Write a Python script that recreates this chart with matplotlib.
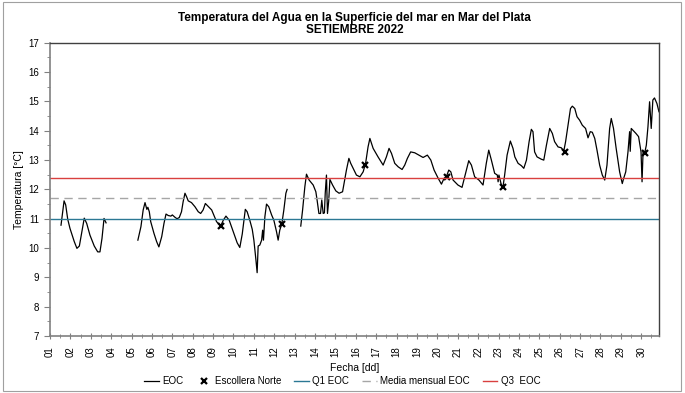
import numpy as np
import matplotlib
matplotlib.use("Agg")
import matplotlib.pyplot as plt
from matplotlib.patches import Rectangle

plt.rcParams['font.family'] = ['Liberation Sans Narrow', 'Liberation Sans', 'DejaVu Sans']

# EOC series (day of month, fractional) - NaN marks the gaps in the record
eoc_days = [1.54, 1.69, 1.77, 1.87, 1.98, 2.19, 2.32, 2.44, 2.55, 2.68, 2.80, 2.96, 3.17, 3.34, 3.45,
            3.55, 3.65, 3.75, np.nan,
            5.31, 5.46, 5.57, 5.66, 5.75, 5.80, 5.87, 5.94, 6.10, 6.23, 6.34, 6.48, 6.59, 6.69, 6.80,
            6.93, 7.00, 7.13, 7.23, 7.34, 7.45, 7.53, 7.62, 7.70, 7.78, 7.94, 8.11, 8.27, 8.39, 8.51,
            8.62, 8.93, 9.17, 9.37, 9.50, 9.63, 9.79, 9.99, 10.18, 10.31, 10.43, 10.58, 10.67, 10.80,
            10.92, 11.00, 11.10, 11.16, 11.21, 11.29, 11.38, 11.43, 11.47, 11.54, 11.62, 11.73, 11.87,
            11.98, 12.11, 12.19, 12.27, 12.37, 12.47, 12.57, 12.63, np.nan,
            13.30, 13.39, 13.50, 13.58, 13.71, 13.91, 14.04, 14.10, 14.19, 14.27, 14.33, 14.40, 14.46,
            14.50, 14.56, 14.61, 14.67, 14.73, 14.86, 15.02, 15.18, 15.35, 15.46, 15.54, 15.66, 15.75,
            15.87, 16.03, 16.20, 16.36, 16.48, 16.60, 16.69, 16.85, 17.09, 17.34, 17.50, 17.63, 17.75,
            17.91, 18.08, 18.27, 18.40, 18.53, 18.69, 18.89, 19.09, 19.30, 19.51, 19.68, 19.84, 20.04,
            20.20, 20.33, 20.45, 20.56, 20.66, 20.77, 21.01, 21.21, 21.34, 21.54, 21.67, 21.83, 22.04,
            22.24, 22.40, 22.52, 22.65, 22.81, 22.94, 22.98, 23.02, 23.14, 23.22, 23.30, 23.42, 23.58,
            23.71, 23.80, 23.96, 24.12, 24.24, 24.37, 24.50, 24.61, 24.69, 24.77, 24.89, 25.10, 25.22,
            25.35, 25.51, 25.64, 25.75, 25.92, 26.08, 26.20, 26.29, 26.41, 26.53, 26.62, 26.74, 26.85,
            26.98, 27.11, 27.27, 27.39, 27.50, 27.60, 27.72, 27.83, 27.96, 28.09, 28.21, 28.32, 28.45,
            28.53, 28.64, 28.77, 28.94, 29.07, 29.14, 29.24, 29.35, 29.43, 29.46, 29.51, 29.74, 29.87,
            29.99, 30.04, 30.09, 30.17, 30.25, 30.33, 30.41, 30.49, 30.57, 30.65, 30.77, 30.87]
eoc_temps = [10.78, 11.61, 11.47, 10.98, 10.67, 10.22, 9.99, 10.07, 10.50, 11.02, 10.84, 10.44, 10.07,
             9.87, 9.87, 10.33, 11.01, 10.86, np.nan,
             10.27, 10.73, 11.30, 11.55, 11.32, 11.39, 11.24, 10.90, 10.50, 10.22, 10.04, 10.39, 10.84,
             11.16, 11.11, 11.09, 11.13, 11.05, 11.00, 11.04, 11.24, 11.58, 11.87, 11.75, 11.61, 11.55,
             11.41, 11.24, 11.18, 11.30, 11.52, 11.30, 10.90, 10.75, 10.95, 11.09, 10.95, 10.56, 10.18,
             10.02, 10.48, 11.32, 11.24, 10.95, 10.64, 10.27, 9.60, 9.16, 10.07, 10.10, 10.27, 10.61,
             10.27, 11.07, 11.50, 11.41, 11.13, 10.95, 10.56, 10.27, 10.61, 10.82, 11.30, 11.87, 12.00,
             np.nan,
             10.75, 11.30, 12.09, 12.52, 12.32, 12.15, 11.92, 11.64, 11.18, 11.18, 11.64, 11.18, 11.20,
             11.87, 12.49, 11.18, 11.60, 12.34, 12.15, 11.95, 11.87, 11.92, 12.35, 12.66, 13.06, 12.89,
             12.72, 12.49, 12.43, 12.60, 12.89, 13.45, 13.74, 13.40, 13.11, 12.83, 13.11, 13.40, 13.23,
             12.89, 12.77, 12.68, 12.83, 13.06, 13.28, 13.25, 13.17, 13.09, 13.17, 13.00, 12.66, 12.38,
             12.18, 12.38, 12.45, 12.66, 12.60, 12.32, 12.15, 12.07, 12.43, 12.98, 12.83, 12.43, 12.32,
             12.15, 12.89, 13.34, 13.00, 12.55, 12.49, 12.26, 12.49, 12.15, 12.09, 12.49, 13.17, 13.65,
             13.40, 13.11, 12.89, 12.81, 12.72, 13.00, 13.63, 14.05, 13.97, 13.28, 13.11, 13.03, 13.00,
             13.51, 14.08, 13.91, 13.63, 13.45, 13.42, 13.30, 13.63, 14.19, 14.76, 14.84, 14.76, 14.48,
             14.36, 14.19, 14.08, 13.76, 13.97, 13.95, 13.74, 13.34, 12.83, 12.49, 12.32, 12.83, 14.08,
             14.42, 14.08, 13.40, 12.60, 12.20, 12.38, 12.60, 13.28, 13.97, 13.30, 14.08, 13.91, 13.80,
             13.28, 12.26, 13.28, 13.24, 13.51, 14.14, 14.99, 14.08, 15.05, 15.12, 14.93, 14.65]

# Escollera Norte spot measurements
esc_days = [9.41, 12.36, 16.44, 20.45, 23.22, 26.25, 30.19]
esc_temps = [10.76, 10.82, 12.83, 12.43, 12.09, 13.27, 13.23]

# monthly statistics of EOC
q1_eoc = 11.0
media_eoc = 11.7
q3_eoc = 12.4

day_ticks = list(range(1, 31))
day_labels = ['%02d' % d for d in day_ticks]

fig = plt.figure(figsize=(6.85, 3.93), dpi=100)
fig.patches.append(Rectangle((0.004, 0.006), 0.99, 0.988, transform=fig.transFigure,
                             fill=False, edgecolor='#a0a0a0', linewidth=0.8))
ax = fig.add_axes([0.073, 0.145, 0.889, 0.746])

ax.plot(eoc_days, eoc_temps, color='black', linewidth=0.9, label='EOC')
ax.plot(esc_days, esc_temps, linestyle='none', marker='x', color='black', markersize=5,
        markeredgewidth=1.6, label='Escollera Norte')
ax.axhline(q1_eoc, color='#2b7894', linewidth=1.0, label='Q1 EOC')
ax.axhline(media_eoc, color='#a6a6a6', linewidth=1.0, linestyle=(0, (6, 4)), label='Media mensual EOC')
ax.axhline(q3_eoc, color='#d9403f', linewidth=1.0, label='Q3  EOC')

ax.set_xlim(1, 30.87)
ax.set_ylim(7, 17)
ax.set_xticks(day_ticks)
ax.set_xticklabels(day_labels, rotation=90, fontsize=7)
ax.set_xticks(np.arange(1.5, 31, 1), minor=True)
ax.set_yticks(range(7, 18))
ax.set_yticks(np.arange(7.5, 17, 1), minor=True)
ax.tick_params(axis='y', labelsize=7, direction='out', length=4, color='#808080', pad=4)
ax.tick_params(axis='y', which='minor', direction='out', length=2, color='#808080')
ax.tick_params(axis='x', direction='inout', length=5, color='#808080', pad=5)
ax.tick_params(axis='x', which='minor', direction='inout', length=3, color='#808080')

for side in ['left', 'bottom']:
    ax.spines[side].set_color('#808080')
    ax.spines[side].set_linewidth(1.2)
for side in ['top', 'right']:
    ax.spines[side].set_color('#404040')
    ax.spines[side].set_linewidth(1.0)

ax.set_xlabel('Fecha [dd]', fontsize=7.5, labelpad=4)
ax.set_ylabel('Temperatura [°C]', fontsize=7.5, labelpad=3)
ax.set_title('Temperatura del Agua en la Superficie del mar en Mar del Plata\nSETIEMBRE 2022',
             fontsize=8.5, fontweight='bold', linespacing=1.05, pad=7)

fig.legend(loc='lower center', bbox_to_anchor=(0.5, -0.005), ncol=5, frameon=False, fontsize=7,
           handlelength=1.5, columnspacing=1.3, handletextpad=0.4)

fig.savefig('out.png', dpi=100)
